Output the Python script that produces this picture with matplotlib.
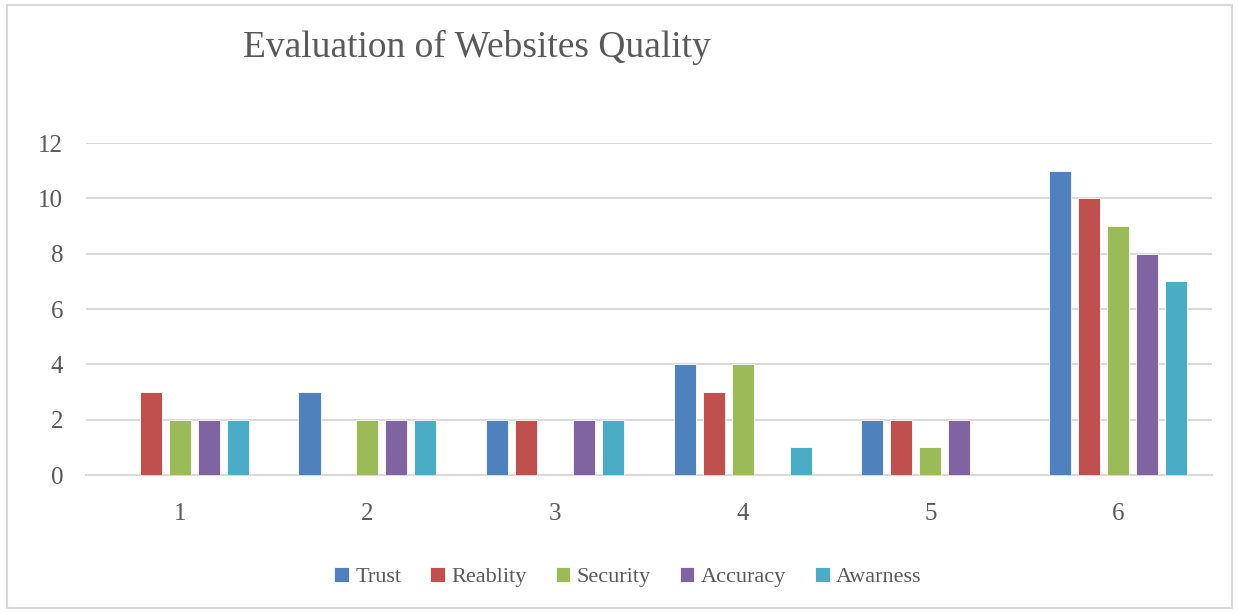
import numpy as np
import matplotlib.pyplot as plt
from matplotlib.patches import Rectangle

# Data
categories = ['1', '2', '3', '4', '5', '6']
series_names = ['Trust', 'Reablity', 'Security', 'Accuracy', 'Awarness']
trust = [0, 3, 2, 4, 2, 11]
reablity = [3, 0, 2, 3, 2, 10]
security = [2, 2, 0, 4, 1, 9]
accuracy = [2, 2, 2, 0, 2, 8]
awarness = [2, 2, 2, 1, 0, 7]
colors = ['#4F81BD', '#C0504D', '#9BBB59', '#8064A2', '#4BACC6']

plt.rcParams['font.family'] = ['Liberation Serif', 'DejaVu Serif']
text_color = '#595959'

fig = plt.figure(figsize=(12.39, 6.13), dpi=100)
ax = fig.add_axes([0.0694, 0.2251, 0.9086, 0.5416])

x = np.arange(len(categories))
width = 0.118
step = 0.1545
all_series = [trust, reablity, security, accuracy, awarness]
for i, (name, vals) in enumerate(zip(series_names, all_series)):
    ax.bar(x + (i - 2) * step, vals, width, color=colors[i], label=name,
           edgecolor='white', linewidth=0.6, zorder=3)

ax.set_xlim(-0.5, len(categories) - 0.5)
ax.set_ylim(0, 12)
ax.set_yticks(range(0, 13, 2))
ax.set_xticks(x)
ax.set_xticklabels(categories)
ax.tick_params(axis='both', length=0, labelsize=18, colors=text_color)
ax.tick_params(axis='x', pad=20)
ax.tick_params(axis='y', pad=16.5)
ax.grid(axis='y', color='#D9D9D9', linewidth=1.5, zorder=0)
for side in ['top', 'right', 'left']:
    ax.spines[side].set_visible(False)
ax.spines['bottom'].set_color('#D9D9D9')
ax.spines['bottom'].set_linewidth(1.5)

fig.text(243 / 1239, 1 - 47 / 613, 'Evaluation of Websites Quality',
         ha='left', va='center', fontsize=27, color=text_color)

leg = fig.legend(loc='center', bbox_to_anchor=(628 / 1239, 1 - 577 / 613), ncol=5,
                 frameon=False, fontsize=16, handlelength=0.65, handleheight=0.65,
                 handletextpad=0.3, columnspacing=1.3)
for t in leg.get_texts():
    t.set_color(text_color)

# light border around the chart area
fig.patches.append(Rectangle((7 / 1239, 5 / 613), 1225 / 1239, 603 / 613,
                             transform=fig.transFigure, fill=False,
                             edgecolor='#D9D9D9', linewidth=1.5))

plt.savefig('out.png', dpi=100)
